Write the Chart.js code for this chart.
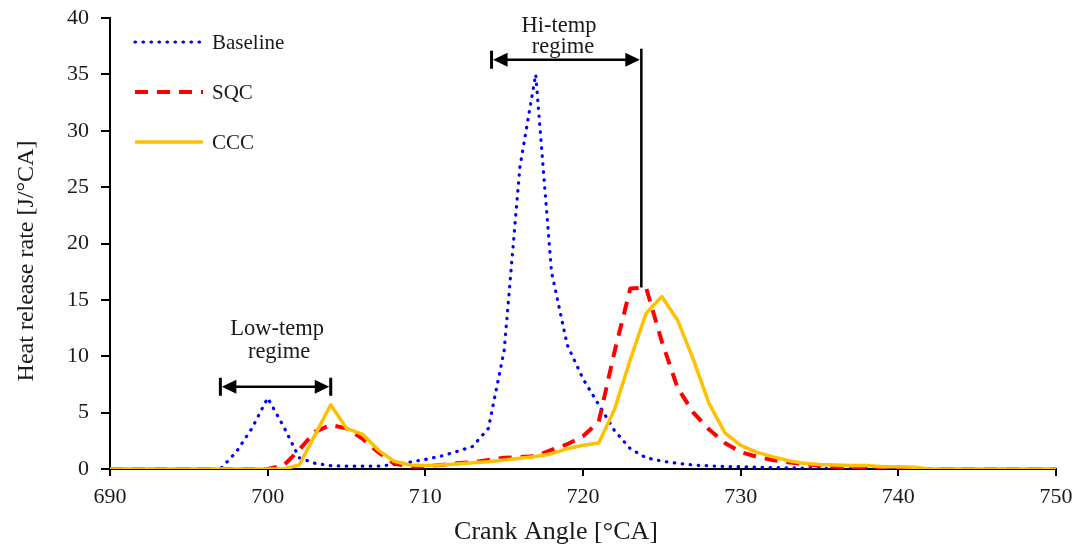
<!DOCTYPE html>
<html lang="en">
<head>
<meta charset="UTF-8">
<title>Heat release rate</title>
<script src="https://cdn.jsdelivr.net/npm/chart.js"></script>
<style>
  html, body { margin: 0; padding: 0; background: #fff; }
</style>
</head>
<body>
<canvas id="hrrChart" width="1077" height="545"></canvas>
<script>
// crank angle, 1 deg steps
const angles = [690, 691, 692, 693, 694, 695, 696, 697, 698, 699,
                700, 701, 702, 703, 704, 705, 706, 707, 708, 709,
                710, 711, 712, 713, 714, 715, 716, 717, 718, 719,
                720, 721, 722, 723, 724, 725, 726, 727, 728, 729,
                730, 731, 732, 733, 734, 735, 736, 737, 738, 739,
                740, 741, 742, 743, 744, 745, 746, 747, 748, 749, 750];

const baseline = [0, 0, 0, 0, 0, 0, 0, 0, 1.5, 3.6,
                  6.3, 3.8, 1.0, 0.5, 0.3, 0.25, 0.25, 0.25, 0.4, 0.6,
                  0.85, 1.15, 1.55, 2.0, 3.6, 10.5, 26.8, 35.0, 17.5, 11.0,
                  8.0, 5.7, 3.4, 1.8, 1.0, 0.7, 0.5, 0.35, 0.28, 0.22,
                  0.2, 0.16, 0.13, 0.1, 0.08, 0.06, 0.05, 0.04, 0.03, 0.02,
                  0.01, 0, 0, 0, 0, 0, 0, 0, 0, 0, 0];

const sqc = [0, 0, 0, 0, 0, 0, 0, 0, 0, 0,
             0, 0.3, 1.7, 3.3, 3.9, 3.6, 2.7, 1.5, 0.5, 0.2,
             0.25, 0.35, 0.5, 0.6, 0.8, 1.0, 1.05, 1.15, 1.7, 2.2,
             2.9, 4.2, 10.4, 16.0, 16.1, 11.3, 7.2, 5.0, 3.5, 2.3,
             1.5, 1.1, 0.8, 0.6, 0.45, 0.3, 0.2, 0.15, 0.1, 0.08,
             0.05, 0, 0, 0, 0, 0, 0, 0, 0, 0, 0];

const ccc = [0, 0, 0, 0, 0, 0, 0, 0, 0, 0,
             0, 0, 0.35, 3.0, 5.7, 3.6, 3.1, 1.7, 0.7, 0.35,
             0.3, 0.35, 0.45, 0.55, 0.65, 0.8, 0.95, 1.1, 1.35, 1.8,
             2.1, 2.3, 5.3, 9.7, 13.8, 15.3, 13.2, 9.7, 5.8, 3.2,
             2.1, 1.5, 1.1, 0.75, 0.5, 0.4, 0.35, 0.3, 0.3, 0.2,
             0.2, 0.15, 0, 0, 0, 0, 0, 0, 0, 0, 0];

const xTicks = [690, 700, 710, 720, 730, 740, 750];
const yTicks = [0, 5, 10, 15, 20, 25, 30, 35, 40];

// regime brackets, in axis units
const lowSpan = [697, 704];
const lowSpanY = 7.3;
const hiSpan = [714.2, 723.7];
const hiSpanY = 36.3;

const SERIF = '"Liberation Serif", "Times New Roman", serif';
const BLUE = '#0000ff';
const RED = '#ff0000';
const GOLD = '#ffc000';

const series = [
    { label: 'Baseline', values: baseline, color: BLUE, width: 3.2, dash: [0.5, 7.5], cap: 'round', order: 3 },
    { label: 'SQC', values: sqc, color: RED, width: 4, dash: [13, 9], cap: 'butt', order: 2 },
    { label: 'CCC', values: ccc, color: GOLD, width: 3.5, dash: [], cap: 'butt', order: 1 }
];

function span(ctx, x1, x2, yy, rightBar) {
    ctx.lineWidth = 2.5;
    ctx.beginPath();
    ctx.moveTo(x1 + 8, yy);
    ctx.lineTo(x2 - 8, yy);
    ctx.stroke();
    // heads
    ctx.beginPath();
    ctx.moveTo(x1 + 1.5, yy);
    ctx.lineTo(x1 + 16, yy - 7);
    ctx.lineTo(x1 + 16, yy + 7);
    ctx.closePath();
    ctx.fill();
    ctx.beginPath();
    ctx.moveTo(x2 - 1.5, yy);
    ctx.lineTo(x2 - 16, yy - 7);
    ctx.lineTo(x2 - 16, yy + 7);
    ctx.closePath();
    ctx.fill();
    ctx.lineWidth = 3;
    ctx.beginPath();
    ctx.moveTo(x1, yy - 9);
    ctx.lineTo(x1, yy + 9);
    if (rightBar) {
        ctx.moveTo(x2, yy - 9);
        ctx.lineTo(x2, yy + 9);
    }
    ctx.stroke();
}

const regimeNotes = {
    id: 'regimeNotes',
    afterDatasetsDraw(chart) {
        const { ctx, scales: { x, y } } = chart;
        ctx.save();
        ctx.strokeStyle = '#000';
        ctx.fillStyle = '#000';

        const ly = y.getPixelForValue(lowSpanY);
        span(ctx, x.getPixelForValue(lowSpan[0]), x.getPixelForValue(lowSpan[1]), ly, true);

        const hy = y.getPixelForValue(hiSpanY);
        const hx2 = x.getPixelForValue(hiSpan[1]);
        span(ctx, x.getPixelForValue(hiSpan[0]), hx2, hy, false);
        // drop line to the SQC peak
        ctx.lineWidth = 2.5;
        ctx.beginPath();
        ctx.moveTo(hx2, hy - 11);
        ctx.lineTo(hx2, y.getPixelForValue(Math.max(...sqc)));
        ctx.stroke();

        ctx.fillStyle = '#1a1a1a';
        ctx.font = '22.5px ' + SERIF;
        ctx.textAlign = 'center';
        ctx.textBaseline = 'alphabetic';
        const lx = x.getPixelForValue(700.6);
        ctx.fillText('Low-temp', lx, ly - 52);
        ctx.fillText('regime', lx + 2, ly - 29);
        const hx = x.getPixelForValue(718.6);
        ctx.fillText('Hi-temp', hx - 2, hy - 28);
        ctx.fillText('regime', hx + 2, hy - 7);
        ctx.restore();
    },
    afterDraw(chart) {
        const { ctx, chartArea } = chart;
        ctx.save();
        // legend inside the plot
        series.forEach((s, i) => {
            const yy = chartArea.top + 24 + i * 50;
            ctx.strokeStyle = s.color;
            ctx.lineWidth = s.width;
            ctx.lineCap = s.cap;
            ctx.setLineDash(s.dash);
            ctx.beginPath();
            ctx.moveTo(chartArea.left + 25, yy);
            ctx.lineTo(chartArea.left + 93, yy);
            ctx.stroke();
            ctx.setLineDash([]);
            ctx.fillStyle = '#1a1a1a';
            ctx.font = '21px ' + SERIF;
            ctx.textAlign = 'left';
            ctx.textBaseline = 'alphabetic';
            ctx.fillText(s.label, chartArea.left + 102, yy + 7);
        });

        // axis titles
        ctx.fillStyle = '#1a1a1a';
        ctx.textAlign = 'center';
        ctx.font = '26px ' + SERIF;
        ctx.fillText('Crank Angle [°CA]', 556, 539);
        ctx.translate(33, 261);
        ctx.rotate(-Math.PI / 2);
        ctx.font = '24px ' + SERIF;
        ctx.fillText('Heat release rate [J/°CA]', 0, 0);
        ctx.restore();
    }
};

new Chart(document.getElementById('hrrChart'), {
    type: 'line',
    data: {
        datasets: series.map(s => ({
            label: s.label,
            data: angles.map((a, i) => ({ x: a, y: s.values[i] })),
            borderColor: s.color,
            backgroundColor: s.color,
            borderWidth: s.width,
            borderDash: s.dash,
            borderCapStyle: s.cap,
            borderJoinStyle: 'round',
            pointRadius: 0,
            tension: 0,
            fill: false,
            order: s.order
        }))
    },
    options: {
        responsive: false,
        animation: false,
        devicePixelRatio: 1,
        layout: { padding: { left: 0, right: 21, top: 18, bottom: 0 } },
        plugins: {
            legend: { display: false },
            tooltip: { enabled: false }
        },
        scales: {
            x: {
                type: 'linear',
                min: 690,
                max: 750,
                afterBuildTicks: s => { s.ticks = xTicks.map(v => ({ value: v })); },
                afterFit: s => { s.height = 76; s.paddingLeft = 0; s.paddingRight = 0; },
                grid: { drawOnChartArea: false, color: '#000', lineWidth: 2, tickLength: 7 },
                border: { color: '#000', width: 2 },
                ticks: { color: '#1a1a1a', padding: 8, font: { family: SERIF, size: 22 } }
            },
            y: {
                min: 0,
                max: 40,
                afterBuildTicks: s => { s.ticks = yTicks.map(v => ({ value: v })); },
                afterFit: s => { s.width = 110; s.paddingTop = 0; s.paddingBottom = 0; },
                grid: { drawOnChartArea: false, color: '#000', lineWidth: 2, tickLength: 9 },
                border: { color: '#000', width: 2 },
                ticks: { color: '#1a1a1a', padding: 12, font: { family: SERIF, size: 22 } }
            }
        }
    },
    plugins: [regimeNotes]
});
</script>
</body>
</html>
